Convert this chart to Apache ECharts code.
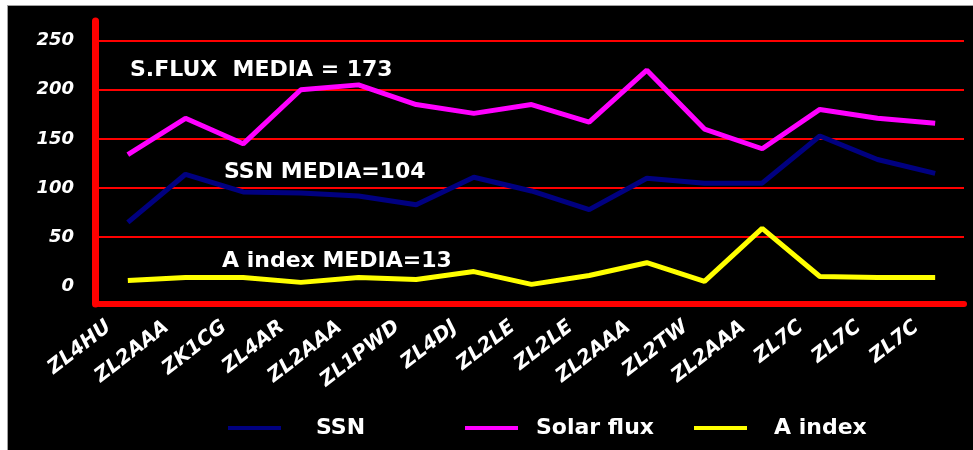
<!DOCTYPE html>
<html>
<head>
<meta charset="utf-8">
<title>SSN, Solar flux, A index</title>
<script src="https://cdn.jsdelivr.net/npm/echarts@6/dist/echarts.min.js"></script>
<style>
  html, body { margin: 0; padding: 0; background: #ffffff; }
  #chart {
    position: absolute; left: 7px; top: 5px;
    width: 965px; height: 444px;
    border-left: 1px solid #a0a0a0; border-top: 1px solid #a0a0a0;
    background: #000000;
  }
</style>
</head>
<body>
<div id="chart"></div>
<script>
// Stations (one reading each) along the horizontal axis
const categories = ['ZL4HU', 'ZL2AAA', 'ZK1CG', 'ZL4AR', 'ZL2AAA', 'ZL1PWD', 'ZL4DJ', 'ZL2LE',
  'ZL2LE', 'ZL2AAA', 'ZL2TW', 'ZL2AAA', 'ZL7C', 'ZL7C', 'ZL7C'];

// Readings
const ssn = [65, 114, 96, 95, 92, 83, 111, 97, 78, 110, 105, 105, 153, 129, 115];
const solarFlux = [134, 171, 145, 200, 205, 185, 176, 185, 167, 220, 160, 140, 180, 171, 166];
const aIndex = [6, 9, 9, 4, 9, 7, 15, 2, 11, 24, 5, 59, 10, 9, 9];

// Averages quoted over the lines
const fluxMedia = 173;
const ssnMedia = 104;
const aIndexMedia = 13;

// Value axis labels and grid lines
const yLabels = [0, 50, 100, 150, 200, 250];
const yGridLines = [50, 100, 150, 200, 250];

const seriesNames = ['SSN', 'Solar flux', 'A index'];
const colors = ['#000080', '#ff00ff', '#ffff00'];

const FONT = 'DejaVu Sans';

const chart = echarts.init(document.getElementById('chart'), null, { renderer: 'canvas' });

function legendFor(i, left, gap) {
  return {
    data: [seriesNames[i]],
    left: left,
    top: 406,
    icon: 'rect',
    itemWidth: 53,
    itemHeight: 4,
    textStyle: {
      color: '#ffffff', fontFamily: FONT, fontWeight: 'bold', fontSize: 22,
      lineHeight: 22, padding: [0, 0, 0, gap]
    },
    selectedMode: false
  };
}

function note(text, left, centerY) {
  return {
    type: 'text',
    left: left,
    top: centerY - 12,
    style: {
      text: text,
      fill: '#ffffff',
      font: 'bold 22px "' + FONT + '"'
    }
  };
}

const option = {
  backgroundColor: '#000000',
  animation: false,
  grid: { left: 91, right: 9, top: 15, bottom: 146 },
  legend: [
    legendFor(0, 215, 30),
    legendFor(1, 452, 13),
    legendFor(2, 681, 22)
  ],
  xAxis: {
    type: 'category',
    data: categories,
    boundaryGap: true,
    axisLine: { show: true, onZero: false, lineStyle: { color: '#ff0000', width: 6 } },
    axisTick: { show: false },
    axisLabel: {
      interval: 0,
      rotate: 38,
      margin: 6,
      padding: [0, 24, 0, 0],
      color: '#ffffff',
      fontFamily: FONT,
      fontWeight: 'bold',
      fontStyle: 'italic',
      fontSize: 20
    },
    splitLine: { show: false }
  },
  yAxis: {
    type: 'value',
    min: -18,
    max: 270,
    offset: 4,
    axisLine: { show: true, lineStyle: { color: '#ff0000', width: 7 } },
    axisTick: { show: false, customValues: yGridLines },
    axisLabel: {
      customValues: yLabels,
      margin: 21,
      color: '#ffffff',
      fontFamily: FONT,
      fontWeight: 'bold',
      fontStyle: 'italic',
      fontSize: 18
    },
    splitLine: { show: true, lineStyle: { color: '#ff0000', width: 2 } }
  },
  series: [
    { name: seriesNames[0], type: 'line', data: ssn, symbol: 'none',
      lineStyle: { color: colors[0], width: 5 }, itemStyle: { color: colors[0] } },
    { name: seriesNames[1], type: 'line', data: solarFlux, symbol: 'none',
      lineStyle: { color: colors[1], width: 5 }, itemStyle: { color: colors[1] } },
    { name: seriesNames[2], type: 'line', data: aIndex, symbol: 'none',
      lineStyle: { color: colors[2], width: 5 }, itemStyle: { color: colors[2] } }
  ],
  graphic: [
    note('S.FLUX  MEDIA = ' + fluxMedia, 122, 65),
    note('SSN MEDIA=' + ssnMedia, 216, 167),
    note('A index MEDIA=' + aIndexMedia, 214, 256)
  ]
};

chart.setOption(option);
</script>
</body>
</html>
